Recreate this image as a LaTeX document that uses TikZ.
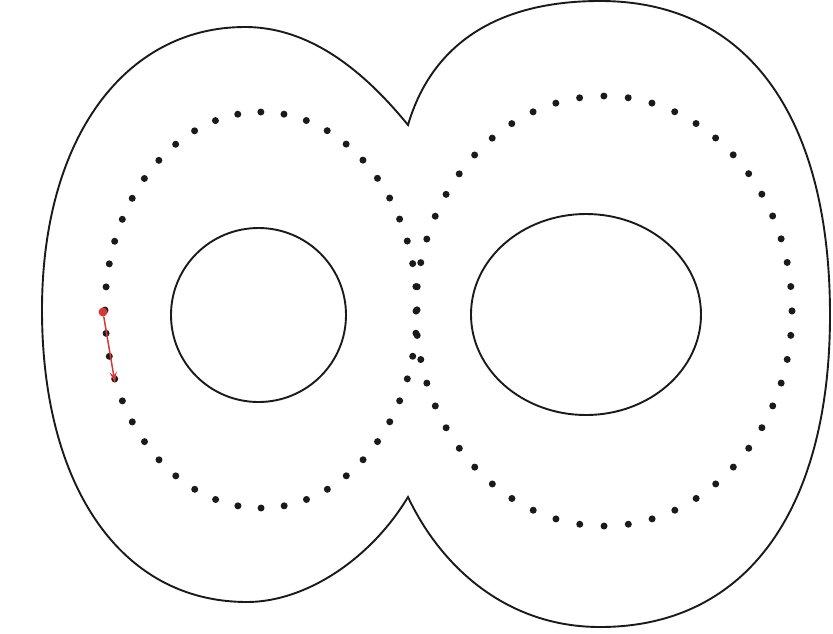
\documentclass[tikz,border=0pt]{standalone}
\usepackage{xcolor}
\usepackage{tikz}
\definecolor{traceInk}{HTML}{1A1A1A}
\definecolor{traceRed}{HTML}{D23A3A}
\usetikzlibrary{arrows.meta}

\begin{document}
\begin{tikzpicture}[
  x=1pt, y=-1pt,
  >=Stealth,
  outline/.style={draw=traceInk, line width=1.9pt, line join=miter},
  hole/.style={draw=traceInk, line width=1.9pt},
  dotloop/.style={draw=traceInk, line width=7pt, line cap=round,
    dash pattern=on 0pt off #1},
  startdot/.style={circle, fill=traceRed, inner sep=0pt, minimum size=9pt},
  tracearrow/.style={-{Stealth[length=11pt,width=7pt]}, draw=traceRed, line width=1.5pt}
]

\useasboundingbox (0,0) rectangle (833,633);

% Outline of the figure
\draw[outline] (408,125)
  .. controls (364,71) and (310,27) .. (245,27)
  .. controls (125,27) and (42,138) .. (42,310)
  .. controls (42,485) and (120,602) .. (247,602)
  .. controls (305,602) and (370,560) .. (408,497)
  .. controls (440,565) and (505,627) .. (600,627)
  .. controls (750,627) and (830,505) .. (830,315)
  .. controls (830,120) and (750,1) .. (600,1)
  .. controls (490,1) and (430,50) .. cycle;

% Holes
\draw[hole] (258.5,315) ellipse [x radius=87.5, y radius=87];
\draw[hole] (586,314.5) ellipse [x radius=115, y radius=100.5];

% Dotted tracing loops
\draw[dotloop=23.25pt] (261,310) ellipse [x radius=156, y radius=198];
\draw[dotloop=24.375pt] (604,311) ellipse [x radius=188, y radius=215];

% Start marker
\node[startdot] (redstart) at (103,312) {};
\coordinate (redtip) at (115,383);
\draw[tracearrow] (redstart) -- (redtip);

\end{tikzpicture}
\end{document}
